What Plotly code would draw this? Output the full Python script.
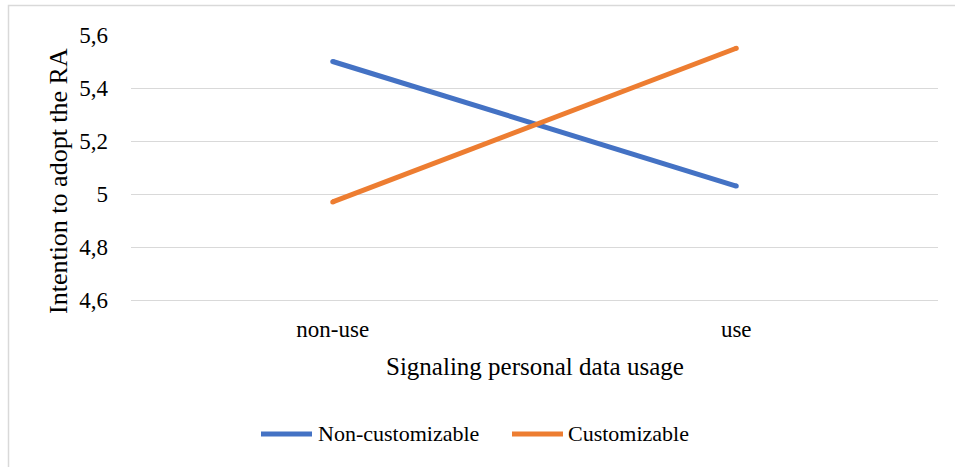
import plotly.graph_objects as go

# Data
categories = ["non-use", "use"]
series_names = ["Non-customizable", "Customizable"]
non_customizable = [5.50, 5.03]
customizable = [4.97, 5.55]
series_colors = ["#4472C4", "#ED7D31"]

y_tickvals = [4.6, 4.8, 5.0, 5.2, 5.4, 5.6]
y_ticktext = ["4,6", "4,8", "5", "5,2", "5,4", "5,6"]

x_title = "Signaling personal data usage"
y_title = "Intention to adopt the RA"

FONT = "'Times New Roman', 'Liberation Serif', serif"
W, H = 955, 467
L, R, T, B = 131, 17, 35, 167
PW, PH = W - L - R, H - T - B


def px_x(p):
    return (p - L) / PW


def px_y(p):
    return (H - B - p) / PH


fig = go.Figure()
for name, vals, col in zip(series_names, [non_customizable, customizable], series_colors):
    fig.add_trace(go.Scatter(
        x=categories, y=vals, name=name, mode="lines+markers",
        line=dict(color=col, width=5),
        marker=dict(color=col, size=5),
        showlegend=False, hoverinfo="skip",
    ))

# chart-area border
fig.add_shape(type="rect", xref="paper", yref="paper",
              x0=px_x(8.5), x1=px_x(W + 20), y0=px_y(H + 20), y1=px_y(5.5),
              line=dict(color="#D9D9D9", width=1.5), fillcolor="rgba(0,0,0,0)",
              layer="below")

annotations = [
    dict(text=x_title, xref="paper", yref="paper", x=0.5, y=px_y(366),
         xanchor="center", yanchor="middle", showarrow=False,
         font=dict(family=FONT, size=25, color="#000000")),
    dict(text=y_title, xref="paper", yref="paper", x=px_x(58), y=px_y(181),
         xanchor="center", yanchor="middle", showarrow=False, textangle=-90,
         font=dict(family=FONT, size=26, color="#000000")),
]

# legend built from the series list
legend_items = [(261, 312, 316), (512, 563, 566)]
legend_y = 434
for (lx0, lx1, tx), name, col in zip(legend_items, series_names, series_colors):
    fig.add_shape(type="line", xref="paper", yref="paper",
                  x0=px_x(lx0), x1=px_x(lx1), y0=px_y(legend_y), y1=px_y(legend_y),
                  line=dict(color=col, width=5))
    annotations.append(dict(text=name, xref="paper", yref="paper",
                            x=px_x(tx), y=px_y(legend_y), xanchor="left", yanchor="middle",
                            showarrow=False,
                            font=dict(family=FONT, size=22, color="#000000")))

fig.update_layout(
    width=W, height=H,
    margin=dict(l=L, r=R, t=T, b=B, pad=0),
    paper_bgcolor="#FFFFFF", plot_bgcolor="#FFFFFF",
    font=dict(family=FONT, size=23, color="#000000"),
    showlegend=False,
    annotations=annotations,
    xaxis=dict(
        type="category", range=[-0.5, 1.5],
        showgrid=False, zeroline=False,
        showline=True, linecolor="#D9D9D9", linewidth=1,
        ticks="", ticklabelstandoff=8,
        tickfont=dict(family=FONT, size=23, color="#000000"),
    ),
    yaxis=dict(
        range=[4.6, 5.6], tickvals=y_tickvals, ticktext=y_ticktext,
        showgrid=True, gridcolor="#D9D9D9", gridwidth=1,
        zeroline=False, showline=False,
        ticks="", ticklabelstandoff=22,
        tickfont=dict(family=FONT, size=23, color="#000000"),
    ),
)

fig.write_html("out.html")
